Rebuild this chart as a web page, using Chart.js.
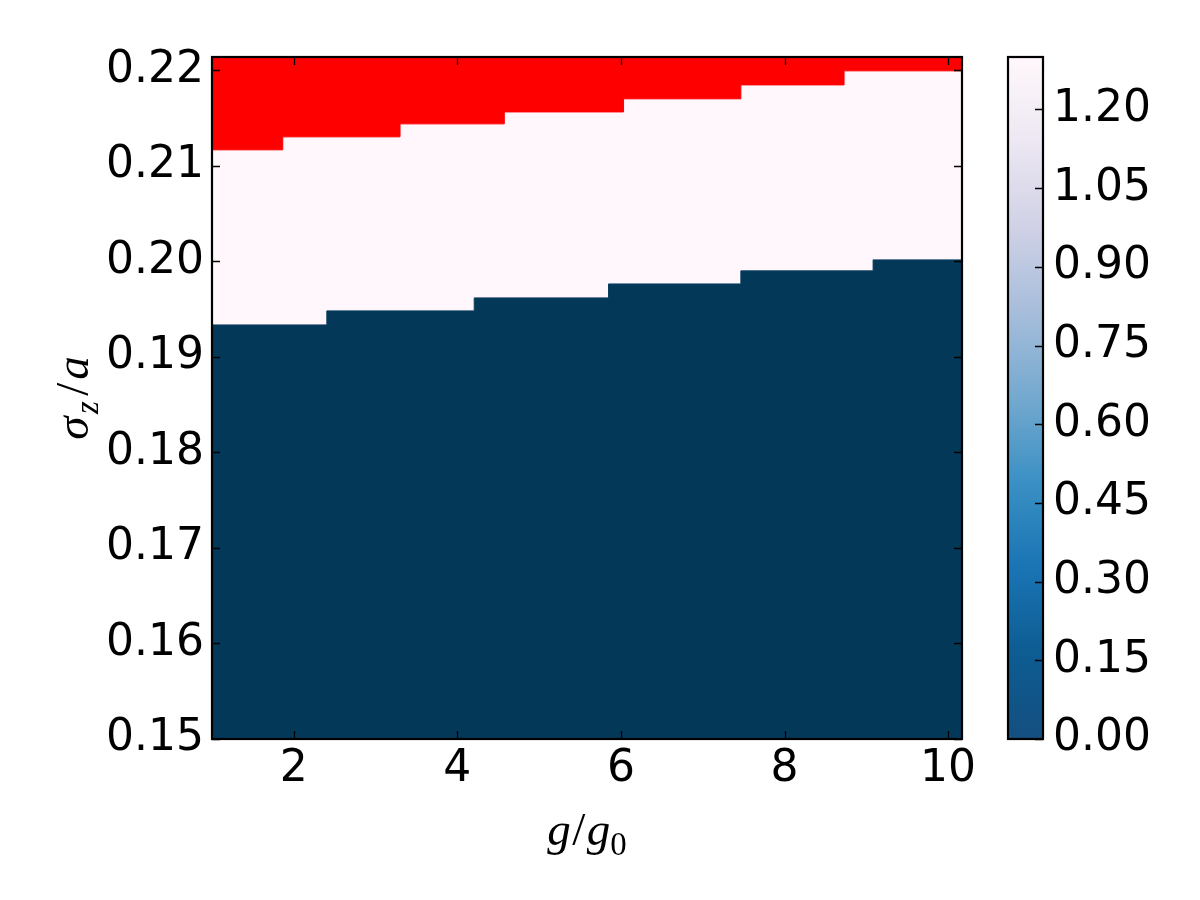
<!DOCTYPE html>
<html>
<head>
<meta charset="utf-8">
<script src="https://cdn.jsdelivr.net/npm/chart.js@4.4.0/dist/chart.umd.min.js"></script>
<style>
body{margin:0;background:#fff;}
#wrap{position:relative;width:1200px;height:900px;}
#main{position:absolute;left:0;top:0;}
#cbar{position:absolute;left:990px;top:0;}
</style>
</head>
<body>
<div id="wrap">
<canvas id="main" width="1000" height="900"></canvas>
<canvas id="cbar" width="210" height="900"></canvas>
</div>
<script>
// boundary of the dark (value 0) region
const lowerEdgeX=[1,2.404,4.206,5.848,7.466,9.083,10.17]
const lowerEdgeY=[0.19335,0.19482,0.19618,0.19764,0.19901,0.20016,0.20016]
// boundary of the red (over range) region
const upperEdgeX=[1,1.865,3.299,4.574,6.032,7.466,8.728,10.17]
const upperEdgeY=[0.21168,0.21304,0.21440,0.21565,0.21702,0.21848,0.21995,0.21995]
const xTicks=[2,4,6,8,10]
const yTicks=[0.15,0.16,0.17,0.18,0.19,0.20,0.21,0.22]
const xMin=1, xMax=10.17, yMin=0.15, yMax=0.2214
const cbarTicks=[0,0.15,0.30,0.45,0.60,0.75,0.90,1.05,1.20]
const cbarMax=1.30
const cmap=['#144f80','#0d5c92','#1a74b4','#3a90c4','#74a9cf','#a6bddb','#d0d1e6','#ece7f2','#fff7fb']

Chart.defaults.font.family='"DejaVu Sans"'
Chart.defaults.font.size=44
Chart.defaults.color='#000'

const frame={
id:'frame',
beforeDatasetsDraw(chart,args,opts){
if(!opts.bg)return
const a=chart.chartArea,ctx=chart.ctx
ctx.save();ctx.fillStyle=opts.bg;ctx.fillRect(a.left,a.top,a.width,a.height);ctx.restore()
},
afterDatasetsDraw(chart,args,opts){
const {ctx,chartArea:a,scales}=chart
const L=8
ctx.save()
ctx.strokeStyle='#000';ctx.lineWidth=1.3
ctx.beginPath()
if(opts.xticks){
scales.x.ticks.forEach(t=>{
const p=Math.round(scales.x.getPixelForValue(t.value))+0.5
ctx.moveTo(p,a.bottom);ctx.lineTo(p,a.bottom-L)
ctx.moveTo(p,a.top);ctx.lineTo(p,a.top+L)
})
}
scales.y.ticks.forEach(t=>{
const p=Math.round(scales.y.getPixelForValue(t.value))+0.5
if(opts.left){ctx.moveTo(a.left,p);ctx.lineTo(a.left+L,p)}
ctx.moveTo(a.right,p);ctx.lineTo(a.right-L,p)
})
ctx.stroke()
ctx.lineWidth=2.2
ctx.strokeRect(a.left,a.top,a.width,a.height)
ctx.restore()
}
}

function drawMath(ctx,parts,size){
let w=0
parts.forEach(p=>{
const s=p.sub?size*0.7:size
ctx.font=(p.it?'italic ':'')+s+'px "Liberation Serif"'
p.w=ctx.measureText(p.t).width+(p.gap||0);w+=p.w
})
let x=-w/2
parts.forEach(p=>{
const s=p.sub?size*0.7:size
ctx.font=(p.it?'italic ':'')+s+'px "Liberation Serif"'
ctx.fillText(p.t,x+(p.gap||0)/2,p.sub?size*0.22:0)
x+=p.w
})
}

const titles={
id:'titles',
afterDraw(chart){
const {ctx,chartArea:a}=chart
ctx.save()
ctx.fillStyle='#000';ctx.textBaseline='alphabetic';ctx.textAlign='left'
ctx.translate((a.left+a.right)/2,845)
drawMath(ctx,[{t:'g',it:1},{t:'/',it:0,gap:3},{t:'g',it:1},{t:'0',sub:1}],47)
ctx.restore()
ctx.save()
ctx.fillStyle='#000';ctx.textBaseline='alphabetic';ctx.textAlign='left'
ctx.translate(88,(a.top+a.bottom)/2)
ctx.rotate(-Math.PI/2)
drawMath(ctx,[{t:'σ',it:1},{t:'z',it:1,sub:1,gap:5},{t:'/',it:0,gap:6},{t:'a',it:1}],47)
ctx.restore()
}
}

new Chart(document.getElementById('main'),{
type:'line',
data:{datasets:[
{data:lowerEdgeX.map((x,i)=>({x:x,y:lowerEdgeY[i]})),stepped:true,fill:'start',
backgroundColor:'#043859',borderColor:'#0a3d5e',borderWidth:1,pointRadius:0},
{data:upperEdgeX.map((x,i)=>({x:x,y:upperEdgeY[i]})),stepped:true,fill:'end',
backgroundColor:'#ff0000',borderColor:'#ff0000',borderWidth:1,pointRadius:0}
]},
options:{
responsive:false,animation:false,
layout:{padding:{left:0,top:57,right:38,bottom:0}},
plugins:{legend:{display:false},tooltip:{enabled:false},
frame:{bg:'#fff7fb',xticks:true,left:true}},
scales:{
x:{type:'linear',min:xMin,max:xMax,
afterBuildTicks:s=>{s.ticks=xTicks.map(v=>({value:v}))},
afterFit:s=>{s.height=161},
ticks:{padding:4,maxRotation:0,callback:v=>String(v)},
grid:{display:false,drawTicks:false},border:{display:false}},
y:{type:'linear',min:yMin,max:yMax,
afterBuildTicks:s=>{s.ticks=yTicks.map(v=>({value:v}))},
afterFit:s=>{s.width=212},
ticks:{padding:8,callback:v=>v.toFixed(2)},
grid:{display:false,drawTicks:false},border:{display:false}}
}
},
plugins:[frame,titles]
})

new Chart(document.getElementById('cbar'),{
type:'bar',
data:{labels:[''],datasets:[{data:[cbarMax],barPercentage:1,categoryPercentage:1,borderWidth:0,
backgroundColor:c=>{
const ch=c.chart
if(!ch.chartArea)return cmap[0]
const y=ch.scales.y
const g=ch.ctx.createLinearGradient(0,y.getPixelForValue(0),0,y.getPixelForValue(cbarMax))
cmap.forEach((col,i)=>g.addColorStop(i/(cmap.length-1),col))
return g
}}]},
options:{
responsive:false,animation:false,
layout:{padding:{left:18,top:57,right:0,bottom:161}},
plugins:{legend:{display:false},tooltip:{enabled:false},frame:{}},
scales:{
x:{display:false},
y:{position:'right',min:0,max:cbarMax,
afterBuildTicks:s=>{s.ticks=cbarTicks.map(v=>({value:v}))},
afterFit:s=>{s.width=157},
ticks:{padding:10,callback:v=>v.toFixed(2)},
grid:{display:false,drawTicks:false},border:{display:false}}
}
},
plugins:[frame]
})
</script>
</body>
</html>
